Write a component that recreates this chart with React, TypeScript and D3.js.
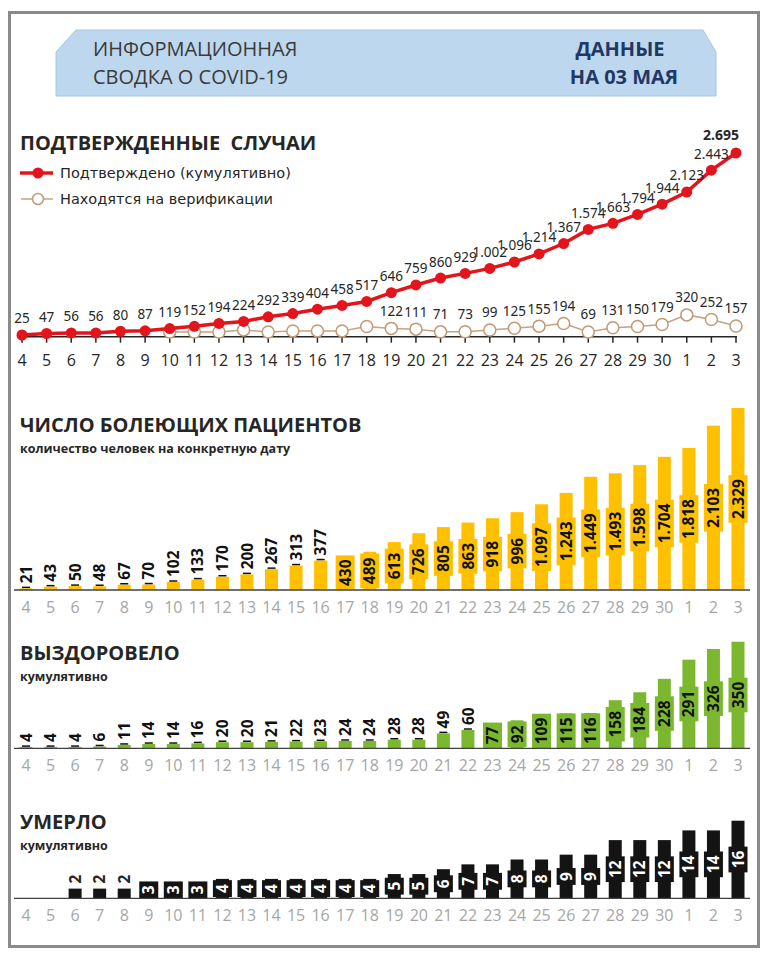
import React, { useEffect } from 'react';
import * as d3 from 'd3';

// dates from 4 April to 3 May
const days = [
  '4', '5', '6', '7', '8', '9', '10', '11', '12', '13', '14', '15', '16', '17', '18',
  '19', '20', '21', '22', '23', '24', '25', '26', '27', '28', '29', '30', '1', '2', '3',
];

const confirmed = [
  25, 47, 56, 56, 80, 87, 119, 152, 194, 224, 292, 339, 404, 458, 517,
  646, 759, 860, 929, 1002, 1096, 1214, 1367, 1574, 1663, 1794, 1944, 2123, 2443, 2695,
];

// no labels before the 19th in the original, values there are read from the markers
const onVerification: (number | null)[] = [
  null, null, null, null, null, null, 70, 70, 70, 100, 70, 85, 85, 85, 150,
  122, 111, 71, 73, 99, 125, 155, 194, 69, 131, 150, 179, 320, 252, 157,
];
const verificationLabelFrom = 15;

const active = [
  21, 43, 50, 48, 67, 70, 102, 133, 170, 200, 267, 313, 377, 430, 489,
  613, 726, 805, 863, 918, 996, 1097, 1243, 1449, 1493, 1598, 1704, 1818, 2103, 2329,
];

const recovered = [
  4, 4, 4, 6, 11, 14, 14, 16, 20, 20, 21, 22, 23, 24, 24,
  28, 28, 49, 60, 77, 92, 109, 115, 116, 158, 184, 228, 291, 326, 350,
];

const died = [
  0, 0, 2, 2, 2, 3, 3, 3, 4, 4, 4, 4, 4, 4, 4,
  5, 5, 6, 7, 7, 8, 8, 9, 9, 12, 12, 12, 14, 14, 16,
];

const SANS = "'Open Sans', 'Noto Sans', sans-serif";
const LBL = "'Noto Sans', 'Open Sans', sans-serif";
const VERD = "'DejaVu Sans', sans-serif";

const fmt = (v: number) => d3.format(',')(v).replace(/,/g, '.');

// rough width of bold digits, for the label boxes
const textLen = (s: string, size: number) =>
  s.split('').reduce((acc, c) => acc + (c === '.' ? 0.27 : 0.572), 0) * size;

interface BarPanelProps {
  title: string;
  subtitle: string;
  titleY: number;
  values: number[];
  color: string;
  insideText: string;
  outsideText: string;
  baseline: number;
  top: number;
  insideFrom: number;
  leader: boolean;
}

const BarPanel: React.FC<BarPanelProps> = ({
  title, subtitle, titleY, values, color, insideText, outsideText,
  baseline, top, insideFrom, leader,
}) => {
  const x = d3.scalePoint<string>().domain(days).range([26, 738]);
  const y = d3.scaleLinear().domain([0, d3.max(values) as number]).range([baseline, top]);
  const barW = 13;
  const boxW = 19;
  const fs = 15.5;

  return (
    <g>
      <text x={20} y={titleY} fontFamily={SANS} fontWeight={700} fontSize={20} fill="#262626">
        {title}
      </text>
      <text x={20} y={titleY + 21} fontFamily={SANS} fontWeight={700} fontSize={12.5} fill="#262626">
        {subtitle}
      </text>
      {values.map((v, i) => {
        if (!v) return null;
        const cx = x(days[i]) as number;
        const yt = y(v);
        const label = fmt(v);
        if (v >= insideFrom) {
          const h = textLen(label, fs) + 8;
          let cy = (yt + baseline) / 2;
          if (cy + h / 2 > baseline) cy = baseline - h / 2;
          return (
            <g key={i}>
              <rect x={cx - barW / 2} y={yt} width={barW} height={baseline - yt} fill={color} />
              <rect x={cx - boxW / 2} y={cy - h / 2} width={boxW} height={h} fill={color} />
              <text
                transform={`translate(${cx},${cy}) rotate(-90)`}
                textAnchor="middle"
                dy="0.36em"
                fontFamily={SANS}
                fontWeight={700}
                fontSize={fs}
                fill={insideText}
              >
                {label}
              </text>
            </g>
          );
        }
        return (
          <g key={i}>
            <rect x={cx - barW / 2} y={yt} width={barW} height={baseline - yt} fill={color} />
            {leader && (
              <line x1={cx - 4} x2={cx + 4} y1={yt - 1} y2={yt - 1} stroke="#111" strokeWidth={1.5} />
            )}
            <text
              transform={`translate(${cx},${yt - 5}) rotate(-90)`}
              textAnchor="start"
              dy="0.36em"
              fontFamily={SANS}
              fontWeight={700}
              fontSize={fs}
              fill={outsideText}
            >
              {label}
            </text>
          </g>
        );
      })}
      <line x1={14} x2={750} y1={baseline} y2={baseline} stroke="#404040" strokeWidth={1.3} />
      {days.map((d) => (
        <text
          key={d}
          x={x(d)}
          y={baseline + 23}
          textAnchor="middle"
          fontFamily={SANS}
          fontSize={16}
          fill="#a6a6a6"
        >
          {d}
        </text>
      ))}
    </g>
  );
};

export default function App() {
  useEffect(() => {
    document.body.style.margin = '0';
  }, []);

  const x = d3.scalePoint<string>().domain(days).range([22, 736]);
  const axisY = 336.7;
  const y = d3.scaleLinear().domain([0, d3.max(confirmed) as number]).range([axisY, 153]);

  const confLine = d3
    .line<number>()
    .x((_, i) => x(days[i]) as number)
    .y((d) => y(d));

  const verPts = onVerification
    .map((v, i) => ({ day: days[i], v, i }))
    .filter((d) => d.v !== null) as { day: string; v: number; i: number }[];
  const verLine = d3
    .line<{ day: string; v: number }>()
    .x((d) => x(d.day) as number)
    .y((d) => y(d.v));

  const last = confirmed.length - 1;

  return (
    <svg width={768} height={960} style={{ display: 'block', background: '#fff' }}>
      <rect x={9.5} y={12.5} width={749} height={934} fill="#fff" stroke="#8a8a8a" strokeWidth={3} />

      {/* header banner */}
      <polygon
        points="76,30 703,30 716,52 716,96 56,96 56,52"
        fill="#bdd7ee"
        stroke="#a8c5e3"
        strokeWidth={1}
      />
      <text x={93} y={56} fontFamily={SANS} fontSize={20} fill="#3a3a3a">ИНФОРМАЦИОННАЯ</text>
      <text x={93} y={84} fontFamily={SANS} fontSize={20} fill="#3a3a3a">СВОДКА О COVID-19</text>
      <text x={620} y={56} textAnchor="middle" fontFamily={SANS} fontWeight={700} fontSize={20} fill="#1f3864">
        ДАННЫЕ
      </text>
      <text x={624} y={84} textAnchor="middle" fontFamily={SANS} fontWeight={700} fontSize={20} fill="#1f3864">
        НА 03 МАЯ
      </text>

      {/* confirmed cases */}
      <text
        x={20}
        y={150}
        fontFamily={SANS}
        fontWeight={700}
        fontSize={20}
        fill="#262626"
        style={{ whiteSpace: 'pre' }}
      >
        {'ПОДТВЕРЖДЕННЫЕ  СЛУЧАИ'}
      </text>
      <line x1={20} x2={53} y1={173} y2={173} stroke="#e3141b" strokeWidth={3.5} />
      <circle cx={38} cy={173} r={5.5} fill="#e3141b" />
      <text x={60} y={178} fontFamily={VERD} fontSize={14.5} fill="#262626">Подтверждено (кумулятивно)</text>
      <line x1={21} x2={53} y1={199} y2={199} stroke="#c9a27e" strokeWidth={1.5} />
      <circle cx={38} cy={199} r={5.5} fill="#fff" stroke="#c09a76" strokeWidth={1.5} />
      <text x={60} y={204} fontFamily={VERD} fontSize={14.5} fill="#262626">Находятся на верификации</text>

      <line x1={17} x2={737} y1={axisY} y2={axisY} stroke="#262626" strokeWidth={1.5} />
      {days.map((d) => (
        <g key={d}>
          <line x1={x(d)} x2={x(d)} y1={axisY} y2={axisY + 6} stroke="#262626" strokeWidth={1.5} />
          <text x={x(d)} y={366} textAnchor="middle" fontFamily={SANS} fontSize={16} fill="#262626">
            {d}
          </text>
        </g>
      ))}

      <path d={verLine(verPts) as string} fill="none" stroke="#c9a27e" strokeWidth={1.5} />
      {verPts.map((d) => (
        <circle key={d.day} cx={x(d.day)} cy={y(d.v)} r={6} fill="#fff" stroke="#c09a76" strokeWidth={1.5} />
      ))}
      {verPts
        .filter((d) => d.i >= verificationLabelFrom)
        .map((d) => (
          <text
            key={d.day}
            x={x(d.day)}
            y={y(d.v) - 12.5}
            textAnchor="middle"
            fontFamily={LBL}
            fontSize={13.5}
            fill="#262626"
          >
            {fmt(d.v)}
          </text>
        ))}

      <path d={confLine(confirmed) as string} fill="none" stroke="#e3141b" strokeWidth={3.5} />
      {confirmed.map((v, i) => (
        <circle key={i} cx={x(days[i])} cy={y(v)} r={5.5} fill="#e3141b" />
      ))}
      {confirmed.map((v, i) =>
        i === last ? (
          <text
            key={i}
            x={(x(days[i]) as number) - 15}
            y={y(v) - 13}
            textAnchor="middle"
            fontFamily={LBL}
            fontWeight={700}
            fontSize={14}
            fill="#262626"
          >
            {fmt(v)}
          </text>
        ) : (
          <text
            key={i}
            x={x(days[i])}
            y={y(v) - 11.5}
            textAnchor="middle"
            fontFamily={LBL}
            fontSize={13.5}
            fill="#262626"
          >
            {fmt(v)}
          </text>
        ),
      )}

      <BarPanel
        title="ЧИСЛО БОЛЕЮЩИХ ПАЦИЕНТОВ"
        subtitle="количество человек на конкретную дату"
        titleY={432}
        values={active}
        color="#ffc000"
        insideText="#111"
        outsideText="#111"
        baseline={590}
        top={408}
        insideFrom={430}
        leader
      />
      <BarPanel
        title="ВЫЗДОРОВЕЛО"
        subtitle="кумулятивно"
        titleY={660}
        values={recovered}
        color="#7cb82f"
        insideText="#111"
        outsideText="#111"
        baseline={748.3}
        top={641.7}
        insideFrom={77}
        leader
      />
      <BarPanel
        title="УМЕРЛО"
        subtitle="кумулятивно"
        titleY={829}
        values={died}
        color="#141414"
        insideText="#fff"
        outsideText="#262626"
        baseline={898.3}
        top={820.7}
        insideFrom={3}
        leader={false}
      />
    </svg>
  );
}
